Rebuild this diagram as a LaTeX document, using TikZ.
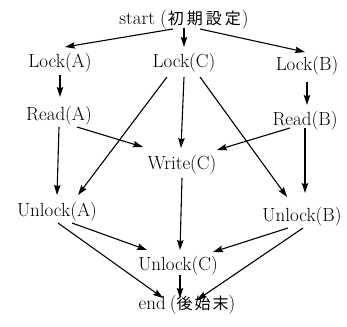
\documentclass[tikz,border=0pt]{standalone}
\usepackage{fontspec}
\newfontfamily\cjk{Noto Sans CJK JP}
\usetikzlibrary{arrows.meta}
\newcommand\cj[1]{{\cjk\fontsize{16}{18}\selectfont #1}}
\begin{document}
\begin{tikzpicture}[x=1pt,y=-1pt,
  lbl/.style={inner sep=0pt,font=\fontsize{19}{22}\selectfont},
  arr/.style={-{Stealth[length=10pt,width=6.5pt,inset=1.5pt]},line width=1.1pt}]
\useasboundingbox (0,0) rectangle (347,326);
\node[lbl] (s) at (184,20) {start\hspace{5pt}(\hspace{1pt}\cj{初}\hspace{3pt}\cj{期}\hspace{3pt}\cj{設}\hspace{3pt}\cj{定}\hspace{1pt})};
\node[lbl] (la) at (60,63) {Lock(A)};
\node[lbl] (lc) at (184,63) {Lock(C)};
\node[lbl] (lb) at (307,66) {Lock(B)};
\node[lbl] (ra) at (59,116) {Read(A)};
\node[lbl] (rb) at (305,121) {Read(B)};
\node[lbl] (wc) at (182,165) {Write(C)};
\node[lbl] (ua) at (57,212) {Unlock(A)};
\node[lbl] (ub) at (302,217) {Unlock(B)};
\node[lbl] (uc) at (178,266) {Unlock(C)};
\node[lbl] (e) at (187,305) {end\hspace{4pt}(\cj{後}\hspace{2pt}\cj{始}\hspace{2pt}\cj{末})};
\draw[arr] ([shift={(-11,9)}]s.center) -- ([shift={(5,-16)}]la.center);
\draw[arr] ([shift={(0,8)}]s.center) -- ([shift={(0,-16)}]lc.center);
\draw[arr] ([shift={(16,9)}]s.center) -- ([shift={(-2,-14)}]lb.center);
\draw[arr] ([shift={(0,12)}]la.center) -- ([shift={(1,-19)}]ra.center);
\draw[arr] ([shift={(0,16)}]lb.center) -- ([shift={(2,-16)}]rb.center);
\draw[arr] ([shift={(-17,14)}]lc.center) -- ([shift={(21,-17)}]ua.center);
\draw[arr] ([shift={(0,14)}]lc.center) -- ([shift={(-1,-17)}]wc.center);
\draw[arr] ([shift={(16,14)}]lc.center) -- ([shift={(-15,-20)}]ub.center);
\draw[arr] ([shift={(18,11)}]ra.center) -- ([shift={(-39,-18)}]wc.center);
\draw[arr] ([shift={(0,11)}]ra.center) -- ([shift={(0,-17)}]ua.center);
\draw[arr] ([shift={(-15,7)}]rb.center) -- ([shift={(35,-15)}]wc.center);
\draw[arr] ([shift={(0,7)}]rb.center) -- ([shift={(3,-24)}]ub.center);
\draw[arr] ([shift={(0,13)}]wc.center) -- ([shift={(2,-16)}]uc.center);
\draw[arr] ([shift={(15,11)}]ua.center) -- ([shift={(-31,-16)}]uc.center);
\draw[arr] ([shift={(1,11)}]ua.center) -- ([shift={(-24,-7)}]e.center);
\draw[arr] ([shift={(-14,11)}]ub.center) -- ([shift={(35,-14)}]uc.center);
\draw[arr] ([shift={(1,11)}]ub.center) -- ([shift={(10,-5)}]e.center);
\draw[arr] ([shift={(2,9)}]uc.center) -- ([shift={(-7,-7)}]e.center);
\end{tikzpicture}
\end{document}
